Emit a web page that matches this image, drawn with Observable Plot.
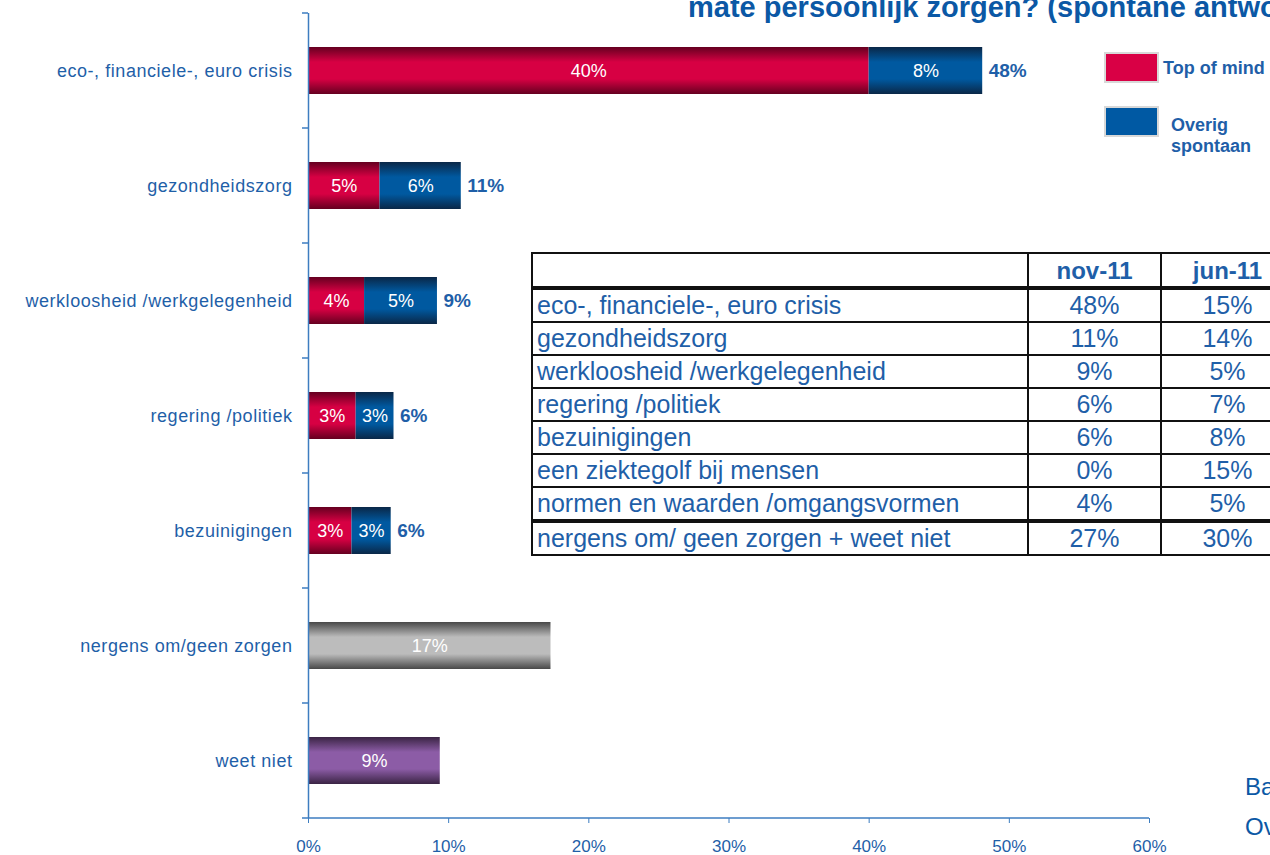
<!DOCTYPE html>
<html><head><meta charset="utf-8">
<script src="https://cdn.jsdelivr.net/npm/d3@7"></script>
<script src="https://cdn.jsdelivr.net/npm/@observablehq/plot@0.6"></script>
<style>
html,body{margin:0;padding:0;background:#fff;overflow:hidden;}
#wrap{position:relative;width:1270px;height:855px;overflow:hidden;font-family:"Liberation Sans",Arial,sans-serif;}
#tbl{position:absolute;left:531px;top:252px;border-collapse:collapse;table-layout:fixed;width:762px;background:#fff;color:#1f5fa8;font-size:25px;}
#tbl td,#tbl th{border:2px solid #111;height:31px;padding:0 4px;line-height:31px;white-space:nowrap;overflow:hidden;}
#tbl th{font-weight:bold;font-size:24px;text-align:center;height:32px;}
#tbl td.num{text-align:center;}
#tbl tr.head th{border-bottom:4px solid #111;}
#tbl tr.last td{border-top:4px solid #111;}
</style></head><body><div id="wrap"></div>
<script>
// ---- data ----
const categories = [
  "eco-, financiele-, euro crisis",
  "gezondheidszorg",
  "werkloosheid /werkgelegenheid",
  "regering /politiek",
  "bezuinigingen",
  "nergens om/geen zorgen",
  "weet niet"
];
const topOfMind      = [40.0, 5.1, 4.0, 3.4, 3.1, null, null];
const overigSpontaan = [8.1, 5.8, 5.2, 2.7, 2.8, null, null];
const singleValues   = [null, null, null, null, null, 17.3, 9.4];
const xTicks = [0, 10, 20, 30, 40, 50, 60];

const legendLabels = ["Top of mind", "Overig spontaan"];
const titleLine = "mate persoonlijk zorgen? (spontane antwoorden)";
const footLines = ["Basis", "Overig"];

const tableTopics = [
  "eco-, financiele-, euro crisis",
  "gezondheidszorg",
  "werkloosheid /werkgelegenheid",
  "regering /politiek",
  "bezuinigingen",
  "een ziektegolf bij mensen",
  "normen en waarden /omgangsvormen",
  "nergens om/ geen zorgen + weet niet"
];
const tableHeaders = ["nov-11", "jun-11"];
const nov11 = [48, 11, 9, 6, 6, 0, 4, 27];
const jun11 = [15, 14, 5, 7, 8, 15, 5, 30];

// ---- styles ----
const textBlue = "#1f5fa8";
const axisBlue = "#3d7dc0";
const singleFill = {"nergens om/geen zorgen": "url(#gGray)", "weet niet": "url(#gPurple)"};

// ---- build tables for marks ----
const segs = [], totals = [];
categories.forEach((c, i) => {
  if (topOfMind[i] != null) {
    segs.push({cat: c, x1: 0, x2: topOfMind[i], v: topOfMind[i], fill: "url(#gRed)"});
    segs.push({cat: c, x1: topOfMind[i], x2: topOfMind[i] + overigSpontaan[i], v: overigSpontaan[i], fill: "url(#gBlue)"});
    totals.push({cat: c, total: topOfMind[i] + overigSpontaan[i]});
  } else {
    segs.push({cat: c, x1: 0, x2: singleValues[i], v: singleValues[i], fill: singleFill[c]});
  }
});

const plot = Plot.plot({
  width: 1270, height: 855,
  marginLeft: 308, marginRight: 121, marginTop: 13, marginBottom: 37,
  style: {fontFamily: "'Liberation Sans', Arial, sans-serif", fontSize: "17px", color: textBlue, background: "transparent"},
  x: {domain: [0, 60], ticks: xTicks, tickFormat: d => d + "%", tickSize: 5, tickPadding: 16, label: null},
  y: {domain: categories, paddingInner: 0.59, paddingOuter: 0.295, align: 0.5, tickSize: 0, tickPadding: 16, label: null},
  color: {type: "identity"},
  marks: [
    Plot.barX(segs, {x1: "x1", x2: "x2", y: "cat", fill: "fill"}),
    Plot.text(segs, {x: d => (d.x1 + d.x2) / 2, y: "cat", text: d => Math.round(d.v) + "%", fill: "white", fontSize: 18}),
    Plot.text(totals, {x: "total", y: "cat", text: d => Math.round(d.total) + "%", textAnchor: "start", dx: 6, fontWeight: "bold", fontSize: 19, fill: textBlue}),
    Plot.ruleX([0], {stroke: axisBlue, strokeWidth: 1.5})
  ]
});

const svg = d3.select(plot);
// gradients
const defs = svg.insert("defs", ":first-child");
function grad(id, dark, bright) {
  const g = defs.append("linearGradient").attr("id", id).attr("x1", 0).attr("y1", 0).attr("x2", 0).attr("y2", 1);
  [[0, dark], [0.32, bright], [0.68, bright], [1, dark]].forEach(([o, c]) => g.append("stop").attr("offset", o).attr("stop-color", c));
}
grad("gRed", "#650020", "#d70043");
grad("gBlue", "#0a2747", "#0059a0");
grad("gGray", "#484848", "#bcbcbc");
grad("gPurple", "#3a2444", "#8c5ca6");

// axis label fonts
svg.selectAll('[aria-label^="y-axis"] text').attr("font-size", "18px").style("font-size", "18px").style("letter-spacing", "0.55px");
svg.selectAll('[aria-label^="x-axis"] text').attr("font-size", "17px").style("font-size", "17px");
svg.selectAll('[aria-label^="x-axis"] line, [aria-label^="x-axis"] path').attr("stroke", axisBlue);

// bottom axis line & category boundary ticks from the scales
const xs = plot.scale("x"), ys = plot.scale("y");
const [yTop, yBot] = ys.range;
const xPix = v => xs.range[0] + (v - xs.domain[0]) / (xs.domain[1] - xs.domain[0]) * (xs.range[1] - xs.range[0]);
const x0 = xPix(0), xEnd = xPix(60);
const ag = svg.append("g").attr("stroke", axisBlue).attr("stroke-width", 1.5);
ag.append("line").attr("x1", x0 - 6).attr("x2", xEnd).attr("y1", yBot).attr("y2", yBot);
for (let k = 0; k < categories.length; k++) {
  const yy = yTop + k * (yBot - yTop) / categories.length;
  ag.append("line").attr("x1", x0 - 6).attr("x2", x0).attr("y1", yy).attr("y2", yy);
}

// overlay texts (start-anchored)
const og = svg.append("g").attr("text-anchor", "start");
// title (partially cut off at top)
og.append("text").attr("x", 688).attr("y", 17).attr("fill", "#0b58a5").attr("font-size", 29).attr("font-weight", "bold").text(titleLine);

// legend
const legColors = ["#d90045", "#0059a3"];
const legY = [53, 107];
legendLabels.forEach((lab, i) => {
  og.append("rect").attr("x", 1105).attr("y", legY[i]).attr("width", 53).attr("height", 29).attr("fill", legColors[i]).attr("stroke", "#d8d8d8").attr("stroke-width", 2);
});
og.append("text").attr("x", 1163).attr("y", 74).attr("fill", textBlue).attr("font-size", 18).attr("font-weight", "bold").text(legendLabels[0]);
const words = legendLabels[1].split(" ");
og.append("text").attr("x", 1171).attr("y", 131).attr("fill", textBlue).attr("font-size", 18).attr("font-weight", "bold").text(words[0]);
og.append("text").attr("x", 1171).attr("y", 152).attr("fill", textBlue).attr("font-size", 18).attr("font-weight", "bold").text(words[1]);

// footnote (cut off at right)
footLines.forEach((t, i) => og.append("text").attr("x", 1245).attr("y", 795 + i * 40).attr("fill", "#0b58a5").attr("font-size", 24).text(t));

const wrap = document.getElementById("wrap");
wrap.appendChild(plot);

// table
const tbl = document.createElement("table");
tbl.id = "tbl";
let html = '<colgroup><col style="width:496px"><col style="width:133px"><col style="width:133px"></colgroup>';
html += '<tr class="head"><th></th><th>' + tableHeaders[0] + '</th><th>' + tableHeaders[1] + '</th></tr>';
tableTopics.forEach((t, i) => {
  html += '<tr' + (i === tableTopics.length - 1 ? ' class="last"' : '') + '><td>' + t + '</td><td class="num">' + nov11[i] + '%</td><td class="num">' + jun11[i] + '%</td></tr>';
});
tbl.innerHTML = html;
wrap.appendChild(tbl);
</script>
</body></html>
